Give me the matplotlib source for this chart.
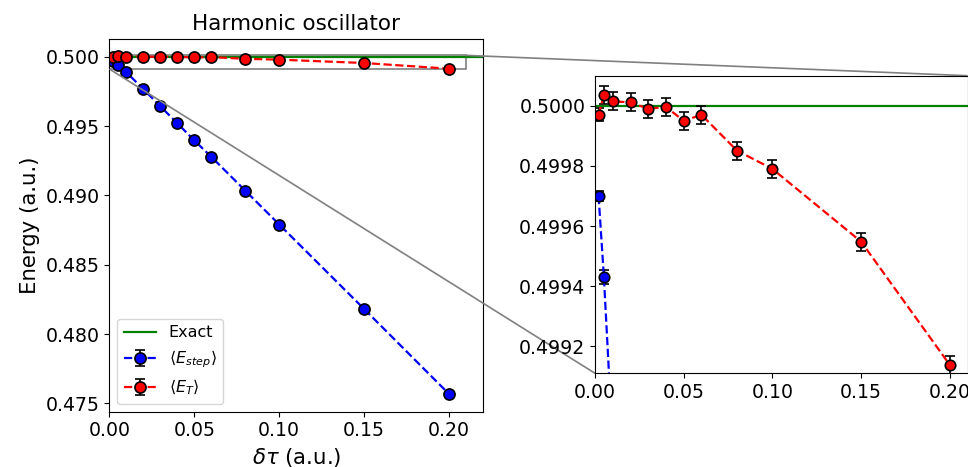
import numpy as np
import matplotlib
matplotlib.use("Agg")
import matplotlib.pyplot as plt
from mpl_toolkits.axes_grid1.inset_locator import mark_inset

# time steps (a.u.)
dtau = [0.002, 0.005, 0.01, 0.02, 0.03, 0.04, 0.05, 0.06, 0.08, 0.10, 0.15, 0.20]

# <E_step> and its error
e_step = [0.49970, 0.49943, 0.49887, 0.49766, 0.49642, 0.49520, 0.49396,
          0.49278, 0.49034, 0.48790, 0.48181, 0.47568]
e_step_err = [0.000017, 0.000023, 0.00002, 0.00002, 0.00002, 0.00002, 0.00002,
              0.00002, 0.00002, 0.00002, 0.00002, 0.00002]

# <E_T> and its error
e_t = [0.49997, 0.500037, 0.500015, 0.500011, 0.49999, 0.499996, 0.49995,
       0.49997, 0.499851, 0.49979, 0.499548, 0.499138]
e_t_err = [0.000022, 0.00003, 0.00003, 0.00003, 0.00003, 0.00003, 0.00003,
           0.00003, 0.00003, 0.00003, 0.00003, 0.00003]

exact = 0.5

fig = plt.figure(figsize=(9.68, 4.67), dpi=100)
ax = fig.add_axes([0.1131, 0.1184, 0.3858, 0.7987])
axins = fig.add_axes([0.6147, 0.2006, 0.3848, 0.6373])

def draw(a, ms):
    a.axhline(exact, color='green', lw=1.6, label='Exact')
    a.errorbar(dtau, e_step, yerr=e_step_err, fmt='o--', color='blue',
               mfc='blue', mec='k', mew=1.2, ms=ms, ecolor='k',
               elinewidth=1.2, capsize=3.5, lw=1.6,
               label=r'$\langle E_{step} \rangle$')
    a.errorbar(dtau, e_t, yerr=e_t_err, fmt='o--', color='red',
               mfc='red', mec='k', mew=1.2, ms=ms, ecolor='k',
               elinewidth=1.2, capsize=3.5, lw=1.6,
               label=r'$\langle E_T \rangle$')

draw(ax, 8)
ax.set_xlim(0, 0.22)
ax.set_ylim(0.4744, 0.5013)
ax.set_xticks([0.0, 0.05, 0.10, 0.15, 0.20])
ax.set_xticklabels(['0.00', '0.05', '0.10', '0.15', '0.20'])
ax.set_yticks(np.arange(0.475, 0.5001, 0.005))
ax.set_yticklabels(['%.3f' % v for v in np.arange(0.475, 0.5001, 0.005)])
ax.tick_params(labelsize=13.6)
ax.set_title('Harmonic oscillator', fontsize=15.5)
ax.set_xlabel(r'$\delta\tau$ (a.u.)', fontsize=15.3)
ax.set_ylabel('Energy (a.u.)', fontsize=15.3)
ax.legend(loc='lower left', fontsize=11.5)

draw(axins, 7.5)
axins.set_xlim(0, 0.21)
axins.set_ylim(0.49911, 0.50010)
axins.set_xticks([0.0, 0.05, 0.10, 0.15, 0.20])
axins.set_xticklabels(['0.00', '0.05', '0.10', '0.15', '0.20'])
yt = [0.4992, 0.4994, 0.4996, 0.4998, 0.5000]
axins.set_yticks(yt)
axins.set_yticklabels(['%.4f' % v for v in yt])
axins.tick_params(labelsize=13.6)

mark_inset(ax, axins, loc1=1, loc2=3, fc='none', ec='0.5', lw=1.2)

fig.savefig('out.png', dpi=100)
